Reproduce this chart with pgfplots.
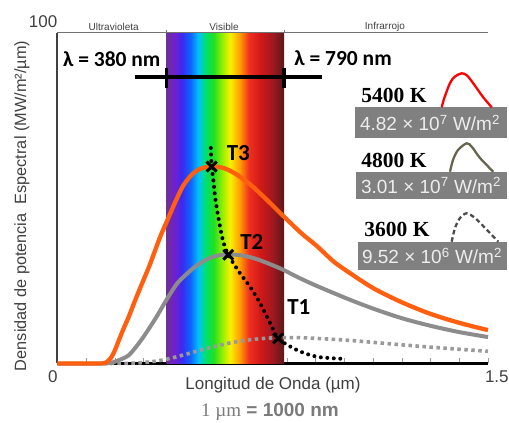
\documentclass[border=0pt]{standalone}
\usepackage{pgfplots}
\pgfplotsset{compat=1.18}
\usepackage{fontspec}
\setmainfont{Liberation Sans}
\newfontfamily\calfont{Carlito}
\newfontfamily\serfont{Liberation Serif}

\definecolor{orng}{HTML}{FF5F0F}
\definecolor{gry}{HTML}{8C8C8C}
\definecolor{dgry}{HTML}{9A9A9A}
\definecolor{boxg}{HTML}{808080}
\definecolor{boxt}{HTML}{EDEDED}
\definecolor{txt}{HTML}{404040}
\definecolor{notec}{HTML}{7A7A7A}
\definecolor{s0}{HTML}{6E3096}
\definecolor{s1}{HTML}{7020D0}
\definecolor{s2}{HTML}{3A2AF0}
\definecolor{s3}{HTML}{1060FF}
\definecolor{s4}{HTML}{00C0FF}
\definecolor{s5}{HTML}{00E070}
\definecolor{s6}{HTML}{20E020}
\definecolor{s7}{HTML}{A0F000}
\definecolor{s8}{HTML}{F8F000}
\definecolor{s9}{HTML}{FFA000}
\definecolor{s10}{HTML}{F03020}
\definecolor{s11}{HTML}{D01818}
\definecolor{s12}{HTML}{A01820}
\definecolor{s13}{HTML}{5A1818}

\pgfdeclarehorizontalshading{rainbow}{100bp}{color(0bp)=(s0); color(25bp)=(s0); color(28.5bp)=(s1); color(31.5bp)=(s2); color(35bp)=(s3); color(38.5bp)=(s4); color(41.5bp)=(s5); color(45bp)=(s6); color(49bp)=(s7); color(52bp)=(s8); color(56bp)=(s9); color(60bp)=(s10); color(65bp)=(s11); color(70bp)=(s12); color(75bp)=(s13); color(100bp)=(s13)}

\begin{document}
\begin{tikzpicture}
\path[use as bounding box] (0,0) rectangle (509pt,423pt);
\begin{axis}[
  at={(57.5pt,59.5pt)}, anchor=south west,
  scale only axis, width=430.5pt, height=330.5pt,
  xmin=0, xmax=1.5, ymin=0, ymax=100,
  axis x line=bottom, axis y line=left,
  x axis line style={-, black, line width=2.2pt},
  y axis line style={-, txt, line width=2pt},
  xtick={0,1.5}, xticklabels={\llap{0},\rlap{\hspace{-3pt}1.5}},
  minor xtick={0.1,0.2,...,1.41},
  ytick={100}, yticklabels={100},
  tick align=inside,
  major tick length=5pt, minor tick length=5pt,
  x tick style={gray!80, line width=0.8pt},
  y tick style={draw=none},
  xticklabel style={font=\fontsize{17}{17}\selectfont, text=txt, anchor=north, inner sep=0pt, yshift=-7pt},
  yticklabel style={font=\fontsize{17}{17}\selectfont, text=txt, anchor=south east, inner sep=0pt, xshift=0pt, yshift=5pt},
  xlabel={Longitud de Onda (µm)},
  xlabel style={at={(axis description cs:0.5006,-0.065)}, anchor=center, font=\fontsize{17}{17}\selectfont, text=txt},
  ylabel={Densidad de potencia\ \ Espectral (MW/m²/µm)},
  ylabel style={at={(axis description cs:-0.0825,0.4766)}, anchor=center, font=\fontsize{16.3}{16}\selectfont, text=txt},
  clip=false,
]
% visible band
\addplot[draw=none, shading=rainbow] coordinates {(0.38,100) (0.79,100)} \closedcycle;

% top frame line and region labels
\draw[gray!90!black, line width=1pt] (axis cs:0,100) -- (axis cs:1.5,100);
\draw[gray!90!black, line width=1pt] (axis cs:0.38,100) -- ++(0,3pt);
\draw[gray!90!black, line width=1pt] (axis cs:0.79,100) -- ++(0,3pt);
\node[font=\fontsize{10}{10}\selectfont, text=txt] at (axis cs:0.1958,101.9) {Ultravioleta};
\node[font=\fontsize{10}{10}\selectfont, text=txt] at (axis cs:0.580,101.9) {Visible};
\node[font=\fontsize{10}{10}\selectfont, text=txt] at (axis cs:1.141,101.9) {Infrarrojo};

% 3600 K (dotted gray)
\addplot[dgry, line width=3.6pt, dash pattern=on 3.5pt off 3.5pt, smooth] coordinates {
(0.16,0) (0.2,0.02) (0.25,0.05) (0.3,0.3) (0.35,0.8) (0.4,1.7) (0.45,2.85) (0.5,4.1) (0.55,5.2) (0.6,6.2) (0.65,6.95) (0.7,7.45) (0.75,7.75) (0.8,7.85) (0.85,7.8) (0.9,7.6) (1.0,7.1) (1.1,6.4) (1.2,5.65) (1.3,4.95) (1.4,4.3) (1.5,3.7)};

% 4800 K (gray)
\addplot[gry, line width=4pt, smooth] coordinates {
(0,0) (0.15,0) (0.185,0.2) (0.205,0.7) (0.225,1.4) (0.247,2.4) (0.264,4.0) (0.285,6.3) (0.31,9.4) (0.3456,14.2) (0.38,19.3) (0.415,24.0) (0.444,26.6) (0.48,29.3) (0.52,31.5) (0.56,32.7) (0.60,33.0) (0.65,32.6) (0.70,31.4) (0.775,28.8) (0.84,26.0) (0.90,23.6) (1.01,19.6) (1.10,16.6) (1.20,13.7) (1.30,11.4) (1.40,9.5) (1.50,8.0)};

% 5400 K (orange)
\addplot[orng, line width=4.3pt, smooth] coordinates {
(0,0) (0.10,0) (0.155,0) (0.172,0.5) (0.187,1.8) (0.200,4.0) (0.215,7.3) (0.230,10.5) (0.249,14.3) (0.270,19.0) (0.295,24.3) (0.320,29.5) (0.340,34.2) (0.360,38.8) (0.386,44.0) (0.410,48.8) (0.438,53.8) (0.470,57.3) (0.500,59.0) (0.540,59.6) (0.580,59.1) (0.620,57.4) (0.671,54.2) (0.720,50.3) (0.787,44.6) (0.850,39.4) (0.903,35.6) (0.960,31.0) (1.008,28.0) (1.100,22.8) (1.200,18.5) (1.300,15.0) (1.400,12.3) (1.500,10.1)};

% Wien locus (black dotted)
\addplot[black, line width=4pt, line cap=round, dash pattern=on 0pt off 6.5pt, smooth] coordinates {
(0.534,65.2) (0.537,59.6) (0.543,55.5) (0.549,50.5) (0.560,44.4) (0.576,37.4) (0.595,32.9) (0.636,27.3) (0.671,23.2) (0.706,18.2) (0.741,12.2) (0.769,7.6) (0.822,4.6) (0.868,2.9) (0.915,1.9) (0.996,1.4)};

% peak markers
\addplot[only marks, mark=x, mark size=7pt, black, mark options={line width=3pt}] coordinates {(0.537,59.6) (0.595,32.9) (0.769,7.6)};

\node[font=\calfont\bfseries\fontsize{23}{23}\selectfont] at (axis cs:0.630,63.8) {T3};
\node[font=\calfont\bfseries\fontsize{23}{23}\selectfont] at (axis cs:0.677,36.9) {T2};
\node[font=\calfont\bfseries\fontsize{23}{23}\selectfont] at (axis cs:0.841,17.0) {T1};

% lambda bar
\draw[black, line width=4pt] (axis cs:0.270,86.6) -- (axis cs:0.921,86.6);
\draw[black, line width=3.5pt] (axis cs:0.38,89.5) -- (axis cs:0.38,83.3);
\draw[black, line width=3.5pt] (axis cs:0.79,89.5) -- (axis cs:0.79,83.3);
\node[font=\calfont\bfseries\fontsize{21.5}{21}\selectfont] at (axis cs:0.1890,92.1) {λ = 380 nm};
\node[font=\calfont\bfseries\fontsize{21.5}{21}\selectfont] at (axis cs:0.9948,92.4) {λ = 790 nm};
\end{axis}

% legend-like annotations (right side)
\node[font=\serfont\bfseries\fontsize{21.5}{21}\selectfont] at (394pt,328pt) {5400 K};
\node[font=\serfont\bfseries\fontsize{21.5}{21}\selectfont] at (394pt,263pt) {4800 K};
\node[font=\serfont\bfseries\fontsize{21.5}{21}\selectfont] at (397pt,194pt) {3600 K};

\fill[boxg] (355pt,284.7pt) rectangle (507pt,315.7pt);
\fill[boxg] (356pt,223.7pt) rectangle (507pt,251.3pt);
\fill[boxg] (358pt,153pt) rectangle (507pt,181.3pt);

\node[font=\fontsize{19}{19}\selectfont, text=boxt] at (430pt,300.2pt) {4.82 × 10\textsuperscript{7} W/m\textsuperscript{2}};
\node[font=\fontsize{19}{19}\selectfont, text=boxt] at (431pt,237.5pt) {3.01 × 10\textsuperscript{7} W/m\textsuperscript{2}};
\node[font=\fontsize{19}{19}\selectfont, text=boxt] at (432pt,167pt) {9.52 × 10\textsuperscript{6} W/m\textsuperscript{2}};

\draw[red, line width=2.3pt] plot[smooth] coordinates {(441.7pt,315.7pt) (444pt,324pt) (450pt,340pt) (455pt,346.5pt) (461.7pt,349.7pt) (467pt,347.5pt) (473pt,340pt) (483pt,326pt) (491.7pt,315.7pt)};
\draw[black!70!olive!80, line width=2.3pt] plot[smooth] coordinates {(450pt,251.3pt) (453pt,263pt) (458pt,273pt) (466.7pt,279.7pt) (472pt,276pt) (480pt,265pt) (493.3pt,251.3pt)};
\draw[black!70, line width=2.3pt, dash pattern=on 4.5pt off 3pt] plot[smooth] coordinates {(451.7pt,181.3pt) (455pt,195pt) (460pt,205pt) (466.7pt,209.7pt) (475pt,205pt) (487pt,193pt) (498.3pt,181.3pt)};

% unit note
\node[text=notec, font=\fontsize{19}{19}\selectfont] at (270pt,11pt) {{\serfont 1 µm} \textbf{= 1000 nm}};
\end{tikzpicture}
\end{document}
